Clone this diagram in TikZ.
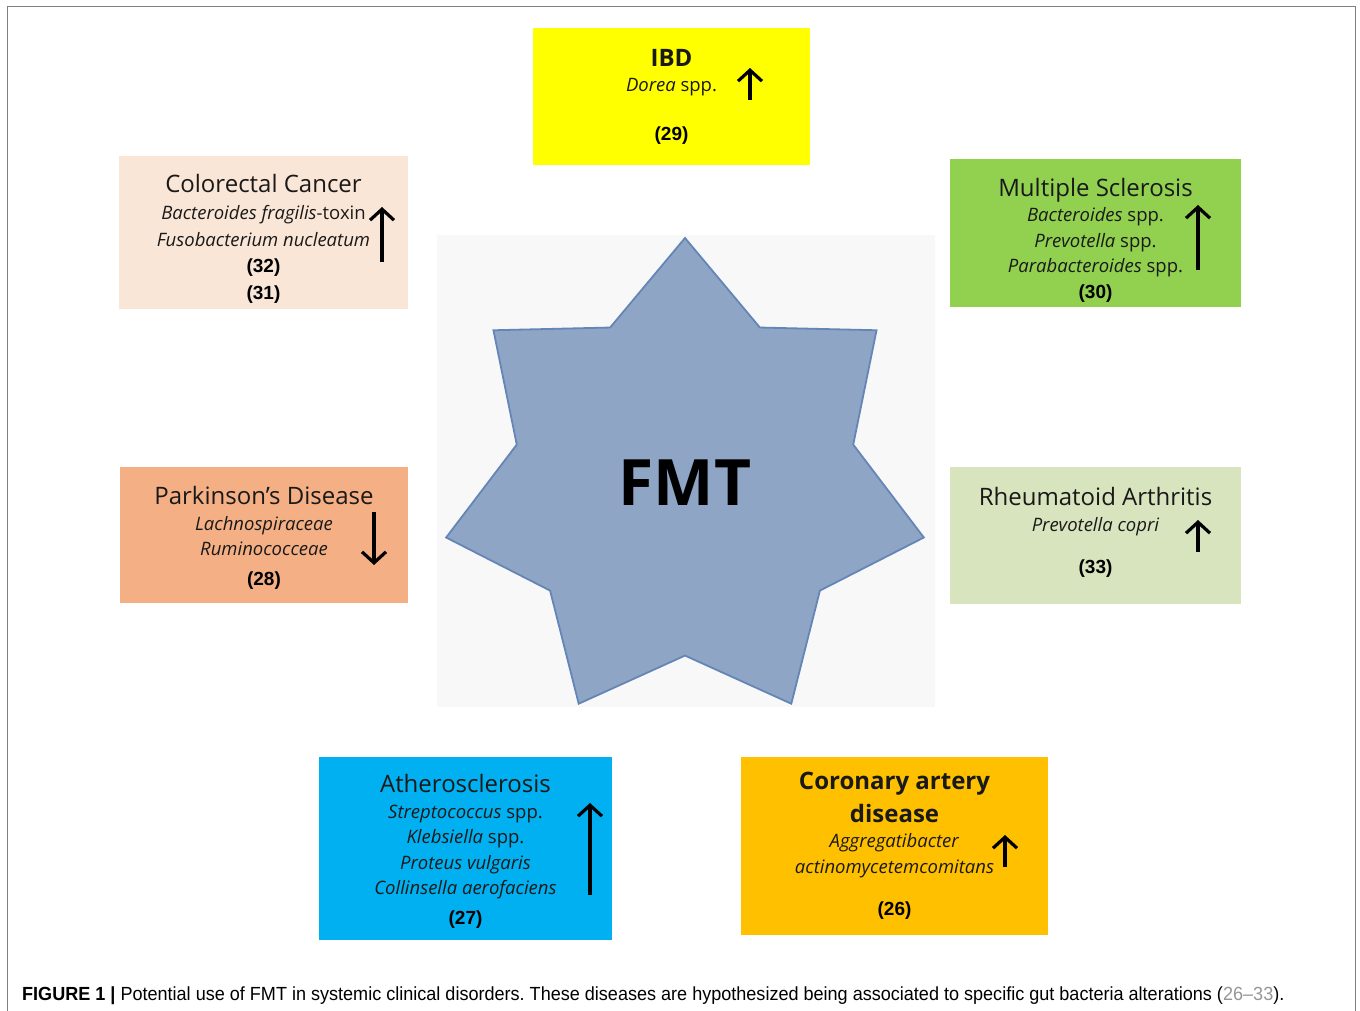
\documentclass[tikz,border=0pt]{standalone}
\usepackage{fontspec}
\setmainfont{Open Sans}
\newfontfamily\numfont{Liberation Sans}
\newfontfamily\capfont[FakeStretch=0.95]{Liberation Sans}
\usetikzlibrary{arrows.meta,shapes.geometric,calc}

\definecolor{framegray}{RGB}{128,128,128}
\definecolor{capgray}{RGB}{150,150,150}
\definecolor{starbg}{RGB}{248,248,248}
\definecolor{starfill}{RGB}{142,165,197}
\definecolor{stardraw}{RGB}{100,134,182}
\definecolor{ibdyellow}{RGB}{255,255,0}
\definecolor{crcpeach}{RGB}{250,230,214}
\definecolor{msgreen}{RGB}{146,208,80}
\definecolor{pdorange}{RGB}{244,176,132}
\definecolor{ragreen}{RGB}{215,228,189}
\definecolor{athblue}{RGB}{0,176,240}
\definecolor{cadorange}{RGB}{255,192,0}

\tikzstyle{box}=[rectangle, inner sep=0pt, align=center, text=black!90, font=\fontsize{18.5}{25.5}\selectfont]
\tikzstyle{trend}=[-{Straight Barb[length=11pt,width=24pt,line width=3.2pt]}, line width=3.2pt, black]

\newcommand{\dtitle}[1]{{\fontsize{24}{26}\selectfont #1}}
\newcommand{\dref}[1]{{\numfont\bfseries\fontsize{19}{25}\selectfont\color{black}(#1)}}
% extra room above / below the text of a box
\newcommand{\uproom}[1]{\rule{0pt}{#1}}
\newcommand{\downroom}[1]{\rule[-#1]{0pt}{#1}}

\begin{document}
\frenchspacing
\begin{tikzpicture}[x=1pt,y=-1pt]
\useasboundingbox (0,0) rectangle (1360,1011);
\draw[framegray, line width=1.6pt] (7.5,1012) -- (7.5,6.5) -- (1355.5,6.5) -- (1355.5,1012);

% centre
\fill[starbg] (437,235) rectangle (935,707);
\node (fmt) [star, star points=7, star point ratio=1.42, minimum size=490pt, inner sep=0pt,
             fill=starfill, draw=stardraw, line width=1.8pt,
             font=\bfseries\fontsize{64}{64}\selectfont] at (685,483) {FMT};

% diseases
\node (ibd) [box, fill=ibdyellow, minimum width=277pt, minimum height=137pt] at (671.5,96.5)
  {\dtitle{\bfseries IBD}\\ \textit{Dorea} spp.\\[23pt] \dref{29}};

\node (crc) [box, fill=crcpeach, minimum width=289pt, minimum height=153pt] at (263.5,232.5)
  {\dtitle{\uproom{30pt}Colorectal Cancer}\\[2pt] \textit{Bacteroides fragilis}-toxin\\[1pt] \textit{Fusobacterium nucleatum}\\[1pt] \dref{32}\\[1pt] \dref{31}};

\node (ms) [box, fill=msgreen, minimum width=291pt, minimum height=148pt] at (1095.5,233)
  {\dtitle{\uproom{32pt}Multiple Sclerosis}\\ \textit{Bacteroides} spp.\\ \textit{Prevotella} spp.\\ \textit{Parabacteroides} spp.\\ \dref{30}};

\node (pd) [box, fill=pdorange, minimum width=288pt, minimum height=136pt] at (264,535)
  {\dtitle{\uproom{24pt}Parkinson's Disease}\\ \textit{Lachnospiraceae}\\ \textit{Ruminococceae}\\[4pt] \dref{28}};

\node (ra) [box, fill=ragreen, minimum width=291pt, minimum height=137pt] at (1095.5,535.5)
  {\dtitle{Rheumatoid Arthritis}\\ \textit{Prevotella copri}\\[17pt] \dref{33}\downroom{10pt}};

\node (ath) [box, fill=athblue, minimum width=293pt, minimum height=183pt] at (465.5,848.5)
  {\dtitle{\uproom{24pt}Atherosclerosis}\\ \textit{Streptococcus} spp.\\ \textit{Klebsiella} spp.\\ \textit{Proteus vulgaris}\\ \textit{Collinsella aerofaciens}\\[4pt] \dref{27}};

\node (cad) [box, fill=cadorange, minimum width=307pt, minimum height=178pt] at (894.5,846)
  {\dtitle{\bfseries Coronary artery}\\[7pt] \dtitle{\bfseries disease}\\ \textit{Aggregatibacter}\\ \textit{actinomycetemcomitans}\\[17pt] \dref{26}};

% up / down
\draw[trend] ($(ibd.center)+(78.5,3.5)$) -- ($(ibd.center)+(78.5,-28.5)$);
\draw[trend] ($(crc.center)+(118.5,29.5)$) -- ($(crc.center)+(118.5,-25.5)$);
\draw[trend] ($(ms.center)+(102.5,37)$) -- ($(ms.center)+(102.5,-28)$);
\draw[trend] ($(pd.center)+(110,-23)$) -- ($(pd.center)+(110,30)$);
\draw[trend] ($(ra.center)+(102.5,16.5)$) -- ($(ra.center)+(102.5,-15.5)$);
\draw[trend] ($(ath.center)+(124.5,46.5)$) -- ($(ath.center)+(124.5,-45.5)$);
\draw[trend] ($(cad.center)+(110.5,21)$) -- ($(cad.center)+(110.5,-11)$);

\node (cap) [anchor=base west, inner sep=0pt, font=\capfont\fontsize{19}{22}\selectfont] at (22,1000)
  {\textbf{FIGURE 1 |} Potential use of FMT in systemic clinical disorders. These diseases are hypothesized being associated to specific gut bacteria alterations (\textcolor{capgray}{26–33}).};
\end{tikzpicture}
\end{document}
